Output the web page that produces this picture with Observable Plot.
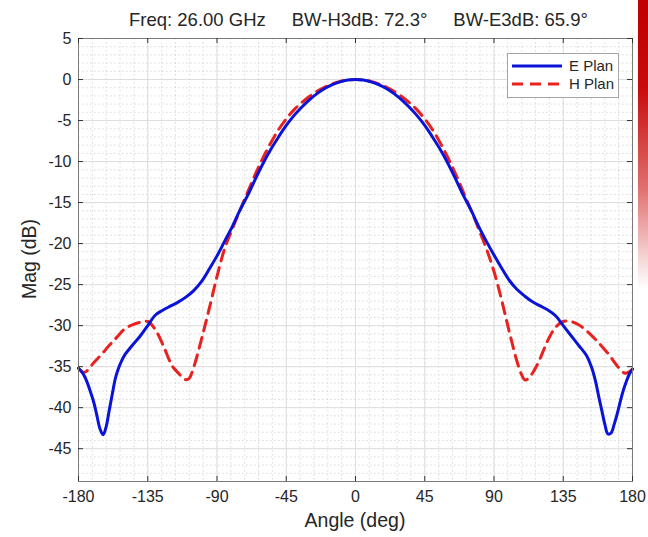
<!DOCTYPE html>
<html><head><meta charset="utf-8">
<script src="https://cdn.jsdelivr.net/npm/d3@7"></script>
<script src="https://cdn.jsdelivr.net/npm/@observablehq/plot@0.6"></script>
<style>
html,body{margin:0;padding:0;background:#fff;}
#wrap{position:relative;width:648px;height:537px;overflow:hidden;font-family:"Liberation Sans",Arial,sans-serif;color:#262626;}
#title{position:absolute;top:9px;left:129px;font-size:18.5px;white-space:nowrap;display:flex;gap:26px;}
#xlabel{position:absolute;top:509px;left:78px;width:554px;text-align:center;font-size:19.5px;}
#ylabel{position:absolute;left:29px;top:259px;font-size:19.5px;transform:translate(-50%,-50%) rotate(-90deg);white-space:nowrap;}
#legend{position:absolute;left:507px;top:53px;width:110px;height:43px;border:1px solid #a6a6a6;background:#fff;font-size:15px;}
#legend .row{position:absolute;left:4px;display:flex;align-items:center;gap:6px;}
#bar{position:absolute;left:638px;top:0;width:10px;height:290px;background:linear-gradient(#c00000 0%,#c80a0a 30%,#e07070 65%,#fbeeee 95%,#ffffff 100%);}
</style></head><body><div id="wrap"></div>
<script>
// Tick labels
const xTicks = [-180, -135, -90, -45, 0, 45, 90, 135, 180];
const yTicks = [5, 0, -5, -10, -15, -20, -25, -30, -35, -40, -45];

// E Plan (blue solid)
const eAngles = [-180,-178,-176,-174,-172,-170,-168,-166,-164,-162,-160,-158,-156,-154,-152,-150,-145,-140,-135,-130,-125,-120,-115,-110,-105,-100,-95,-90,-85,-80,-75,-70,-65,-60,-55,-50,-45,-40,-35,-30,-25,-20,-15,-10,-5,
  0,5,10,15,20,25,30,35,40,45,50,55,60,65,70,75,80,85,90,95,100,105,110,115,120,125,130,135,140,145,150,152,154,156,158,160,162,164,166,168,170,172,174,176,178,180];
const eMag = [-35.2,-35.6,-36.2,-37.1,-38.2,-39.4,-41.0,-42.6,-43.3,-42.3,-40.3,-38.3,-36.4,-35.2,-34.3,-33.6,-32.4,-31.3,-30.0,-28.7,-28.1,-27.6,-27.1,-26.5,-25.7,-24.6,-23.1,-21.5,-19.7,-17.9,-15.9,-14.1,-12.1,-10.2,-8.5,-7.0,-5.6,-4.4,-3.38,-2.48,-1.72,-1.1,-0.62,-0.28,-0.07,
  0,-0.07,-0.28,-0.62,-1.1,-1.72,-2.48,-3.38,-4.4,-5.6,-7.0,-8.5,-10.2,-12.1,-14.1,-15.9,-17.9,-19.7,-21.4,-23.0,-24.5,-25.6,-26.4,-27.1,-27.6,-28.1,-28.8,-30.0,-31.2,-32.4,-33.6,-34.4,-35.4,-36.8,-38.6,-40.3,-42.0,-43.2,-43.1,-42.1,-40.8,-39.3,-37.9,-36.8,-35.9,-35.3];

// H Plan (red dashed)
const hAngles = [-180,-177,-175,-170,-165,-160,-155,-150,-145,-140,-135,-130,-125,-120,-118,-115,-112,-110,-108,-105,-100,-95,-90,-85,-80,-75,-70,-65,-60,-55,-50,-45,-40,-35,-30,-25,-20,-15,-10,-5,
  0,5,10,15,20,25,30,35,40,45,50,55,60,65,70,75,80,85,90,95,100,105,108,110,112,115,118,120,125,130,135,140,145,150,155,160,165,170,175,178,180];
const hMag = [-35.2,-35.7,-35.6,-34.5,-33.5,-32.4,-31.4,-30.4,-29.9,-29.6,-29.5,-30.5,-32.4,-34.6,-35.2,-35.8,-36.4,-36.6,-36.4,-35.0,-31.6,-27.9,-24.0,-20.6,-18.2,-15.9,-13.7,-11.5,-9.5,-7.7,-6.1,-4.8,-3.7,-2.82,-2.07,-1.44,-0.92,-0.52,-0.23,-0.06,
  0,-0.06,-0.23,-0.52,-0.92,-1.44,-2.07,-2.82,-3.7,-4.8,-6.1,-7.7,-9.5,-11.5,-13.7,-15.9,-18.2,-20.6,-23.4,-26.9,-30.8,-34.4,-36.0,-36.6,-36.5,-35.8,-34.8,-34.0,-31.8,-30.2,-29.5,-29.5,-29.9,-30.6,-31.5,-32.5,-33.6,-34.9,-35.8,-35.6,-35.3];

const eData = eAngles.map((a, i) => ({angle: a, mag: eMag[i]}));
const hData = hAngles.map((a, i) => ({angle: a, mag: hMag[i]}));

const W = 648, H = 537, mL = 78, mR = 16, mT = 38, mB = 56;
const innerW = W - mL - mR, innerH = H - mT - mB;
const xMinor = d3.range(-180, 181, 9);
const yMinor = d3.range(-49, 6, 1);
const frameColor = "#7a7a7a";
const blue = "#0a14d8", red = "#e8221e";

const chart = Plot.plot({
  width: W, height: H,
  marginLeft: mL, marginRight: mR, marginTop: mT, marginBottom: mB,
  x: {domain: [-180, 180]},
  y: {domain: [-49, 5]},
  style: {fontFamily: '"Liberation Sans", Arial, sans-serif', fontSize: "16px", color: "#262626", background: "#fff"},
  marks: [
    Plot.ruleX(xMinor, {x: d => d, stroke: "#cfcfcf", strokeDasharray: "1.5,2.5", strokeWidth: 0.8}),
    Plot.ruleY(yMinor, {y: d => d, stroke: "#cfcfcf", strokeDasharray: "1.5,2.5", strokeWidth: 0.8}),
    Plot.ruleX(xTicks, {x: d => d, stroke: "#dedede", strokeWidth: 1}),
    Plot.ruleY(yTicks, {y: d => d, stroke: "#dedede", strokeWidth: 1}),
    Plot.line(hData, {x: "angle", y: "mag", stroke: red, strokeWidth: 3, strokeDasharray: "11,7", curve: "catmull-rom"}),
    Plot.line(eData, {x: "angle", y: "mag", stroke: blue, strokeWidth: 3, curve: "catmull-rom"}),
    Plot.frame({stroke: frameColor, strokeWidth: 1}),
    Plot.ruleX(xTicks, {x: d => d, insetTop: innerH - 5, stroke: "#333"}),
    Plot.ruleX(xTicks, {x: d => d, insetBottom: innerH - 5, stroke: "#333"}),
    Plot.ruleY(yTicks, {y: d => d, insetRight: innerW - 5, stroke: "#333"}),
    Plot.ruleY(yTicks, {y: d => d, insetLeft: innerW - 5, stroke: "#333"}),
    Plot.axisX({ticks: xTicks, tickSize: 0, tickPadding: 9, tickFormat: d => String(d), label: null, fontSize: 16}),
    Plot.axisY({ticks: yTicks, tickSize: 0, tickPadding: 7, tickFormat: d => String(d), label: null, fontSize: 16})
  ]
});

const wrap = document.getElementById("wrap");
wrap.appendChild(chart);
wrap.insertAdjacentHTML("beforeend", `
<div id="title"><span>Freq: 26.00 GHz</span><span>BW-H3dB: 72.3°</span><span>BW-E3dB: 65.9°</span></div>
<div id="xlabel">Angle (deg)</div>
<div id="ylabel">Mag (dB)</div>
<div id="legend">
  <div class="row" style="top:3px"><svg width="51" height="16"><line x1="0" y1="8" x2="50" y2="8" stroke="${blue}" stroke-width="3"/></svg><span>E Plan</span></div>
  <div class="row" style="top:21px"><svg width="51" height="16"><line x1="0" y1="8" x2="50" y2="8" stroke="${red}" stroke-width="3" stroke-dasharray="11,7"/></svg><span>H Plan</span></div>
</div>
<div id="bar"></div>`);
</script>
</body></html>
